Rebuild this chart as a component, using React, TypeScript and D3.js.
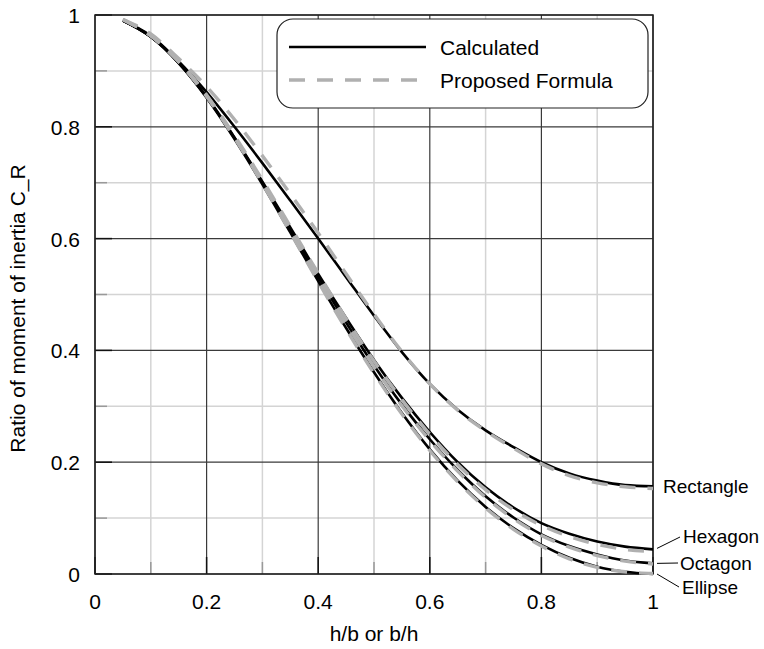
import React from "react";
import { scaleLinear, line, curveMonotoneX, range } from "d3";

// ratio h/b (or b/h)
const ratios = [0.05, 0.1, 0.15, 0.2, 0.25, 0.3, 0.35, 0.4, 0.45, 0.5, 0.55, 0.6, 0.65, 0.7, 0.75, 0.8, 0.85, 0.9, 0.95, 1.0];

// calculated values
const rectangleCalc = [0.99, 0.963, 0.917, 0.862, 0.8, 0.735, 0.668, 0.6, 0.531, 0.462, 0.397, 0.34, 0.294, 0.257, 0.227, 0.2, 0.18, 0.167, 0.159, 0.157];
const hexagonCalc = [0.99, 0.961, 0.915, 0.854, 0.781, 0.702, 0.62, 0.537, 0.458, 0.383, 0.315, 0.254, 0.2, 0.155, 0.119, 0.091, 0.072, 0.058, 0.049, 0.044];
const octagonCalc = [0.99, 0.961, 0.914, 0.853, 0.78, 0.7, 0.615, 0.531, 0.45, 0.373, 0.303, 0.241, 0.186, 0.139, 0.101, 0.071, 0.05, 0.035, 0.024, 0.019];
const ellipseCalc = [0.99, 0.961, 0.914, 0.852, 0.778, 0.697, 0.611, 0.524, 0.44, 0.361, 0.288, 0.223, 0.167, 0.12, 0.082, 0.052, 0.029, 0.013, 0.004, 0.0];

// proposed formula values
const rectangleProp = [0.992, 0.966, 0.922, 0.872, 0.813, 0.748, 0.68, 0.61, 0.537, 0.465, 0.398, 0.34, 0.293, 0.256, 0.225, 0.197, 0.176, 0.163, 0.156, 0.153];
const hexagonProp = [0.992, 0.963, 0.918, 0.857, 0.784, 0.705, 0.622, 0.538, 0.457, 0.381, 0.312, 0.25, 0.196, 0.151, 0.115, 0.087, 0.067, 0.053, 0.044, 0.04];
const octagonProp = [0.992, 0.963, 0.917, 0.856, 0.782, 0.701, 0.615, 0.529, 0.448, 0.371, 0.301, 0.239, 0.184, 0.137, 0.099, 0.069, 0.048, 0.033, 0.023, 0.018];
const ellipseProp = [0.992, 0.963, 0.916, 0.854, 0.78, 0.698, 0.611, 0.523, 0.438, 0.359, 0.286, 0.221, 0.165, 0.118, 0.08, 0.05, 0.027, 0.012, 0.004, 0.001];

const shapeNames = ["Rectangle", "Hexagon", "Octagon", "Ellipse"];
const xTicks = [0, 0.2, 0.4, 0.6, 0.8, 1];
const yTicks = [0, 0.2, 0.4, 0.6, 0.8, 1];
const tickLabels = ["0", "0.2", "0.4", "0.6", "0.8", "1"];

const font = "Liberation Sans, Arial, sans-serif";

const App = () => {
  const width = 764;
  const height = 649;
  const left = 95;
  const right = 653;
  const top = 15;
  const bottom = 574;

  const xScale = scaleLinear().domain([0, 1]).range([left, right]);
  const yScale = scaleLinear().domain([0, 1]).range([bottom, top]);

  const path = line<number>()
    .x((d, i) => xScale(ratios[i]))
    .y((d) => yScale(d))
    .curve(curveMonotoneX);

  const calc = [rectangleCalc, hexagonCalc, octagonCalc, ellipseCalc];
  const prop = [rectangleProp, hexagonProp, octagonProp, ellipseProp];

  const minor = range(1, 10, 2).map((i) => i / 10);

  // label positions at the right end
  const labelX = [663, 683, 680, 682];
  const labelY = [yScale(rectangleCalc[19]) + 7, 543, 570, 594];
  const leaders = [
    null,
    [657, yScale(hexagonCalc[19]) - 1, 680, 537],
    [657, yScale(octagonCalc[19]), 678, 563],
    [657, yScale(ellipseCalc[19]), 679, 587],
  ];

  return (
    <svg width={width} height={height} style={{ position: "absolute", left: 0, top: 0, background: "#fff" }}>
      {/* minor grid */}
      {minor.map((v) => (
        <g key={"m" + v}>
          <line x1={xScale(v)} x2={xScale(v)} y1={top} y2={bottom} stroke="#d4d4d4" strokeWidth={1.5} />
          <line x1={left} x2={right} y1={yScale(v)} y2={yScale(v)} stroke="#d4d4d4" strokeWidth={1.5} />
          <line x1={xScale(v)} x2={xScale(v)} y1={bottom} y2={bottom - 12} stroke="#999" strokeWidth={1.5} />
          <line x1={left} x2={left + 12} y1={yScale(v)} y2={yScale(v)} stroke="#999" strokeWidth={1.5} />
        </g>
      ))}
      {/* major grid */}
      {xTicks.map((v) => (
        <g key={"M" + v}>
          <line x1={xScale(v)} x2={xScale(v)} y1={top} y2={bottom} stroke="#3a3a3a" strokeWidth={1.2} />
          <line x1={left} x2={right} y1={yScale(v)} y2={yScale(v)} stroke="#3a3a3a" strokeWidth={1.2} />
          <line x1={xScale(v)} x2={xScale(v)} y1={bottom} y2={bottom - 17} stroke="#111" strokeWidth={1.5} />
          <line x1={left} x2={left + 17} y1={yScale(v)} y2={yScale(v)} stroke="#111" strokeWidth={1.5} />
        </g>
      ))}
      <rect x={left} y={top} width={right - left} height={bottom - top} fill="none" stroke="#222" strokeWidth={1.5} />

      {/* curves */}
      {calc.map((d, i) => (
        <path key={"c" + i} d={path(d) || ""} fill="none" stroke="#000" strokeWidth={2.6} />
      ))}
      {prop.map((d, i) => (
        <path key={"p" + i} d={path(d) || ""} fill="none" stroke="#b0b0b0" strokeWidth={3.4} strokeDasharray="16,12" />
      ))}

      {/* tick labels */}
      {xTicks.map((v, i) => (
        <text key={"xt" + v} x={xScale(v)} y={609} textAnchor="middle" fontFamily={font} fontSize={21} fill="#000">
          {tickLabels[i]}
        </text>
      ))}
      {yTicks.map((v, i) => (
        <text key={"yt" + v} x={80} y={yScale(v) + 8} textAnchor="end" fontFamily={font} fontSize={21} fill="#000">
          {tickLabels[i]}
        </text>
      ))}

      {/* axis titles */}
      <text x={(left + right) / 2} y={641} textAnchor="middle" fontFamily={font} fontSize={21} fill="#000">
        h/b or b/h
      </text>
      <text transform={`translate(25,${(top + bottom) / 2 + 14}) rotate(-90)`} textAnchor="middle" fontFamily={font} fontSize={21} fill="#000">
        Ratio of moment of inertia C_R
      </text>

      {/* shape labels */}
      {shapeNames.map((n, i) => (
        <g key={n}>
          {leaders[i] && (
            <line x1={leaders[i]![0]} y1={leaders[i]![1]} x2={leaders[i]![2]} y2={leaders[i]![3]} stroke="#000" strokeWidth={1} />
          )}
          <text x={labelX[i]} y={labelY[i]} fontFamily={font} fontSize={19} fill="#000">
            {n}
          </text>
        </g>
      ))}

      {/* legend */}
      <rect x={277} y={19} width={371} height={89} rx={16} fill="#fff" stroke="#222" strokeWidth={1.2} />
      <line x1={289} x2={426} y1={47} y2={47} stroke="#000" strokeWidth={2.6} />
      <line x1={289} x2={420} y1={80} y2={80} stroke="#b0b0b0" strokeWidth={3.4} strokeDasharray="16,12" />
      <text x={440} y={55} fontFamily={font} fontSize={21} fill="#000">Calculated</text>
      <text x={440} y={88} fontFamily={font} fontSize={21} fill="#000">Proposed Formula</text>
    </svg>
  );
};

export default App;
